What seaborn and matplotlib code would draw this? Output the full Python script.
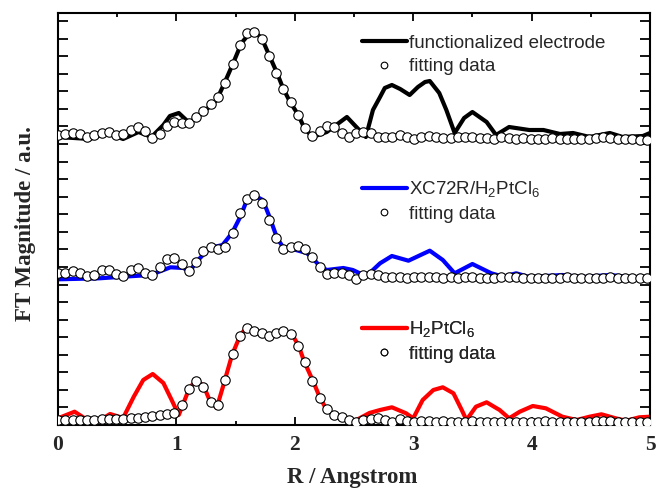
import matplotlib
matplotlib.use("Agg")
import matplotlib.pyplot as plt
from matplotlib.lines import Line2D
from matplotlib.ticker import MultipleLocator, NullFormatter
import seaborn as sns
import numpy as np

# ---------------- data (R in Angstrom, FT magnitude in arbitrary units, curves offset) -------------
R_FIT = [0.000, 0.061, 0.123, 0.184, 0.246, 0.307, 0.368, 0.430, 0.491, 0.553,
         0.614, 0.675, 0.737, 0.798, 0.860, 0.921, 0.982, 1.044, 1.105, 1.167,
         1.228, 1.289, 1.351, 1.412, 1.474, 1.535, 1.596, 1.658, 1.719, 1.781,
         1.842, 1.903, 1.965, 2.026, 2.088, 2.149, 2.210, 2.272, 2.333, 2.395,
         2.456, 2.517, 2.579, 2.640, 2.702, 2.763, 2.824, 2.886, 2.947, 3.009,
         3.070, 3.131, 3.193, 3.254, 3.316, 3.377, 3.438, 3.500, 3.561, 3.623,
         3.684, 3.745, 3.807, 3.868, 3.930, 3.991, 4.052, 4.114, 4.175, 4.237,
         4.298, 4.359, 4.421, 4.482, 4.544, 4.605, 4.666, 4.728, 4.789, 4.851,
         4.912, 4.973]

# functionalized electrode (black)
R_BLACK = [0.00, 0.27, 0.41, 0.55, 0.68, 0.79, 0.89, 0.945, 1.02, 1.11, 1.23, 1.34, 1.41,
           1.48, 1.55, 1.62, 1.66, 1.72, 1.79, 1.85, 1.90, 1.96, 2.03, 2.08, 2.15,
           2.27, 2.44, 2.60, 2.66, 2.72, 2.76, 2.82, 2.89, 2.97, 3.04, 3.10, 3.14,
           3.22, 3.28, 3.35, 3.43, 3.50, 3.62, 3.70, 3.81, 3.98, 4.10, 4.24, 4.35,
           4.49, 4.66, 4.77, 4.94, 5.00]
FT_BLACK = [288, 286, 292, 286, 293, 288, 300, 309, 312, 302, 313, 325, 343,
            362, 382, 392, 393, 387, 368, 352, 337, 323, 310, 297, 288,
            293, 308, 288, 315, 328, 337, 340, 336, 330, 338, 343, 344,
            332, 315, 292, 307, 313, 303, 290, 298, 295, 295, 291, 292,
            288, 292, 288, 289, 292]
FIT_BLACK = [290, 291, 291.7, 290.7, 288.3, 290, 292.3, 293, 290, 290.7,
             295, 297.7, 294.3, 286.7, 291, 299, 303.3, 302.3, 301.7, 307.7,
             314.3, 321, 328.3, 341.7, 361, 380, 391.7, 393.3, 385.7, 369,
             351.7, 335.7, 323.3, 310, 296.7, 289, 294.3, 299, 297.7, 291.7,
             287.7, 292.3, 293.3, 292.3, 288.3, 288.3, 287.7, 290, 288.3, 285.7,
             287.7, 289, 288.3, 287.3, 286.7, 288.3, 287.7, 287.7, 286.7, 286.7,
             285.7, 287.7, 286.7, 285.7, 286.7, 285.7, 286.3, 285.7, 286.7, 285.7,
             285.7, 285.7, 285.7, 285.7, 286.7, 287.7, 286.7, 285.7, 285.7, 285.7,
             285, 285]

# XC72R/H2PtCl6 (blue)
R_BLUE = [0.00, 0.35, 0.55, 0.78, 0.95, 1.06, 1.11, 1.17, 1.28, 1.39, 1.47, 1.54,
          1.59, 1.65, 1.73, 1.79, 1.85, 1.90, 2.01, 2.10, 2.15, 2.21, 2.27, 2.41,
          2.49, 2.58, 2.63, 2.72, 2.82, 2.96, 3.14, 3.25, 3.35, 3.50, 3.66, 3.76,
          3.87, 3.98, 4.26, 4.43, 4.66, 4.83, 5.00]
FT_BLUE = [145.7, 146.7, 148.3, 150, 157.7, 157, 153.3, 163.3, 177, 180, 192, 208.3,
           223.3, 230, 225, 207, 187, 178, 175, 172, 167, 159, 155, 157,
           155, 150, 151.7, 161.7, 169, 164.3, 174.3, 165, 151.7, 161, 151.7, 148.3,
           151.7, 148, 150, 148, 150, 148, 148]
FIT_BLUE = [151.7, 151.7, 154, 152.3, 149, 150, 155, 155, 150.7, 149.3,
            155, 156.7, 152.3, 150, 158.3, 165.7, 166.7, 160.7, 154.3, 163.3,
            174.3, 177.7, 175.7, 177.7, 191.7, 211.7, 225.7, 230, 221.7, 205,
            186.7, 175.7, 177.7, 179.3, 175.7, 167.7, 157.7, 150.7, 151.7, 152.3,
            150, 146, 150, 150.7, 150, 147.7, 147.7, 147.7, 146.7, 147.7,
            147.7, 147.7, 147.7, 146.7, 147.7, 146.7, 147.7, 147.7, 146.7, 146.7,
            146.7, 147.7, 148.3, 147.7, 146.7, 146.7, 146.7, 146.7, 146.7, 146.7,
            147.7, 146.7, 146.7, 146.7, 146.7, 146.7, 147.7, 146.7, 146.7, 146.7,
            146.7, 146.7]

# H2PtCl6 (red)
R_RED = [0.00, 0.14, 0.30, 0.44, 0.55, 0.64, 0.72, 0.80, 0.89, 0.96, 1.02, 1.06,
         1.11, 1.17, 1.23, 1.28, 1.34, 1.39, 1.47, 1.54, 1.59, 1.68, 1.79, 1.90,
         1.97, 2.03, 2.08, 2.15, 2.21, 2.27, 2.34, 2.41, 2.51, 2.63, 2.72, 2.82,
         2.94, 3.00, 3.08, 3.17, 3.25, 3.34, 3.41, 3.45, 3.53, 3.62, 3.73, 3.81,
         3.90, 4.01, 4.12, 4.26, 4.38, 4.49, 4.59, 4.71, 4.80, 4.91, 5.00]
FT_RED = [6.7, 13.3, 1, 11, 7, 28.3, 45, 51, 42, 25, 10, 22,
          37, 45, 39, 25, 17, 37, 70, 90, 97, 93.3, 90, 94.3,
          91.7, 80, 63.3, 45, 28, 15, 10, 7, 4.3, 12, 15, 17.7,
          11.7, 6.7, 25, 35, 37.7, 31.7, 15, 5, 18.3, 22.7, 15, 6.7,
          13.3, 19, 16.7, 8.3, 5, 8.3, 10.7, 6.7, 4.3, 7.7, 8.3]
FIT_RED = [5, 5, 5, 5, 5, 5, 5.7, 5.7, 6, 6.3,
           6.7, 7.3, 7.7, 9, 9.7, 10.7, 12.3, 20.3, 35.7, 44.3,
           38.3, 23.3, 20, 45, 71, 89.3, 96.7, 94.3, 91.7, 89,
           91.7, 94, 91, 79, 63.3, 44.3, 27.3, 15.7, 10, 7.7,
           5, 3.3, 5, 6, 6.7, 5, 3.3, 5.7, 4.3, 3.3,
           4.3, 4.3, 3.3, 4.3, 3.3, 3.3, 3.3, 4.3, 3.3, 3.3,
           3.3, 3.3, 3.3, 3.3, 3.3, 3.3, 3.3, 4.3, 3.3, 3.3,
           3.3, 3.3, 3.3, 3.3, 4.3, 4.3, 4.3, 3.3, 3.3, 3.3,
           3.3, 3.3]

LABELS = ["functionalized electrode", "XC72R/H$_2$PtCl$_6$", "H$_2$PtCl$_6$"]
FIT_LABEL = "fitting data"
X_TICKS = [0, 1, 2, 3, 4, 5]

# ---------------- style ----------------
sns.set_style("ticks")
plt.rcParams["font.family"] = ["Liberation Sans", "DejaVu Sans"]
plt.rcParams["mathtext.fontset"] = "custom"
plt.rcParams["mathtext.rm"] = "Liberation Sans"
plt.rcParams["mathtext.it"] = "Liberation Sans:italic"
plt.rcParams["mathtext.bf"] = "Liberation Sans:bold"
plt.rcParams["mathtext.default"] = "rm"

W, H = 656, 488
fig = plt.figure(figsize=(W / 100, H / 100), dpi=100)
ax = fig.add_axes([58 / W, 1 - 425 / H, 592 / W, 412 / H])

series = [(R_BLACK, FT_BLACK, FIT_BLACK, "black"),
          (R_BLUE, FT_BLUE, FIT_BLUE, "#0000FF"),
          (R_RED, FT_RED, FIT_RED, "#FF0000")]

for rx, ry, fy, col in series:
    sns.lineplot(x=rx, y=ry, ax=ax, color=col, lw=3.0, sort=False,
                 estimator=None, zorder=2, legend=False)
    sns.scatterplot(x=R_FIT, y=fy, ax=ax, marker="o", s=46, color="white",
                    edgecolor="black", linewidth=0.8, zorder=3, legend=False)

ax.set_xlim(0, 5)
ax.set_ylim(0, 412)
ax.set_xticks(X_TICKS)
ax.xaxis.set_minor_locator(MultipleLocator(0.5))
ax.set_yticks(np.arange(0, 412, 17.56))
ax.yaxis.set_major_formatter(NullFormatter())

for s in ax.spines.values():
    s.set_linewidth(1.5)
    s.set_color("black")
ax.tick_params(axis="both", which="both", direction="in", top=True, right=True,
               color="black", width=1.3)
ax.tick_params(axis="x", which="major", length=6, pad=7)
ax.tick_params(axis="x", which="minor", length=3)
ax.tick_params(axis="y", which="major", length=7)
for lab in ax.get_xticklabels():
    lab.set_fontfamily("Liberation Serif")
    lab.set_fontweight("bold")
    lab.set_fontsize(15.5)

ax.set_xlabel("R / Angstrom", fontfamily="Liberation Serif", fontweight="bold",
              fontsize=16.5)
ax.set_ylabel("FT Magnitude / a.u.", fontfamily="Liberation Serif",
              fontweight="bold", fontsize=16.5)
ax.xaxis.set_label_coords(0.497, -0.103)
ax.yaxis.set_label_coords(-0.037, 0.49)

# ---------------- legends ----------------
legend_y = [0.898, 0.5437, 0.204]
cols = ["black", "#0000FF", "#FF0000"]
for lab, col, ly in zip(LABELS, cols, legend_y):
    h_line = Line2D([], [], color=col, lw=3.0)
    h_fit = Line2D([], [], ls="none", marker="o", markersize=4.8,
                   markerfacecolor="white", markeredgecolor="black",
                   markeredgewidth=0.8)
    leg = ax.legend([h_line, h_fit], [lab, FIT_LABEL], loc="center left",
                    bbox_to_anchor=(0.5135, ly), frameon=False, borderpad=0,
                    borderaxespad=0, handlelength=2.4, handletextpad=0.1,
                    labelspacing=0.35, prop={"family": "Liberation Sans", "size": 13.5})
    ax.add_artist(leg)

fig.savefig("out.png", dpi=100)
